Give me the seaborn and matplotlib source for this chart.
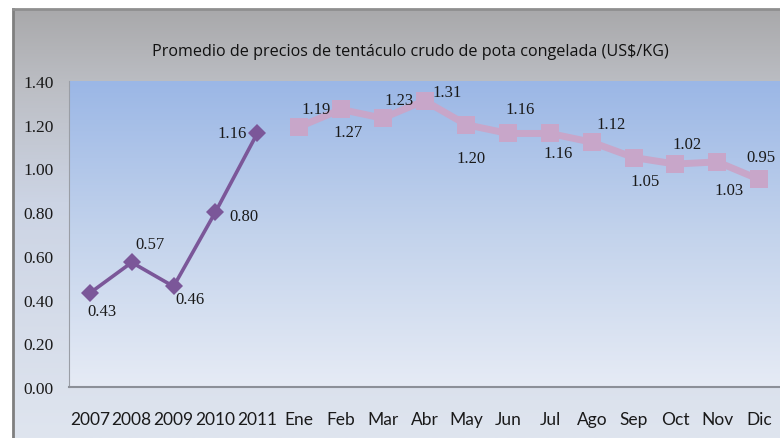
import numpy as np
import pandas as pd
import matplotlib
matplotlib.use('Agg')
import matplotlib.pyplot as plt
from matplotlib.colors import LinearSegmentedColormap
import seaborn as sns

# data
anios = ['2007', '2008', '2009', '2010', '2011']
precio_anual = [0.43, 0.57, 0.46, 0.80, 1.16]
meses = ['Ene', 'Feb', 'Mar', 'Abr', 'May', 'Jun', 'Jul', 'Ago', 'Sep', 'Oct', 'Nov', 'Dic']
precio_mensual = [1.19, 1.27, 1.23, 1.31, 1.20, 1.16, 1.16, 1.12, 1.05, 1.02, 1.03, 0.95]
etiquetas_x = anios + meses
ticks_y = [0.0, 0.2, 0.4, 0.6, 0.8, 1.0, 1.2, 1.4]

# label offsets in pixels (dx, dy), dy positive = up
off_anual = [(12, -18), (18, 18), (16, -13), (29, -4), (-25, 0)]
off_mensual = [(17, 18), (7, -23), (16, 18), (23, 9), (5, -33), (12, 24),
               (8, -20), (19, 18), (11, -24), (12, 20), (12, -28), (2, 22)]

df_anual = pd.DataFrame({'pos': np.arange(len(anios)), 'precio': precio_anual})
df_mensual = pd.DataFrame({'pos': np.arange(len(meses)) + len(anios), 'precio': precio_mensual})

W, H = 780, 439
fig = plt.figure(figsize=(W / 100, H / 100), dpi=100)
fig.patch.set_facecolor('white')

# outer chart area: grey at top fading to light blue-grey
bg = fig.add_axes([0, 0, 1, 1])
bg.set_xlim(0, W)
bg.set_ylim(H, 0)
bg.axis('off')
cm_outer = LinearSegmentedColormap.from_list(
    'outer', [(0.0, '#a9a9ab'), (0.18, '#bcbec4'), (0.45, '#ccd4e4'), (1.0, '#dfe5ef')])
grad = np.linspace(0, 1, 256).reshape(-1, 1)
bg.imshow(grad, cmap=cm_outer, aspect='auto', extent=[13, W, H, 10])
bg.plot([13, 13], [10, H], color='#7f7f7f', lw=2)
bg.plot([13, W], [10, 10], color='#8f8f8f', lw=2)

# plot area
x0, x1, y0, y1 = 69, 780, 82, 388
ax = fig.add_axes([x0 / W, (H - y1) / H, (x1 - x0) / W, (y1 - y0) / H])
ax.patch.set_alpha(0)
cm_plot = LinearSegmentedColormap.from_list('plot', ['#9bb7e6', '#c3d3ec', '#e6ebf5'])
ax.imshow(grad, cmap=cm_plot, aspect='auto', extent=[0, 1, 0, 1],
          transform=ax.transAxes, zorder=0)

sns.lineplot(data=df_mensual, x='pos', y='precio', ax=ax, color='#c8a6c9', lw=5,
             marker='s', markersize=13, markeredgewidth=0, zorder=3)
sns.lineplot(data=df_anual, x='pos', y='precio', ax=ax, color='#7b5799', lw=2.6,
             marker='D', markersize=9, markeredgewidth=0, zorder=4)

lbl_font = dict(family='Liberation Serif', size=12, color='#1a1a1a')
for (x, y), (dx, dy) in zip(zip(df_anual['pos'], df_anual['precio']), off_anual):
    ax.annotate(f'{y:.2f}', (x, y), xytext=(dx, dy), textcoords='offset pixels',
                ha='center', va='center', zorder=5, **lbl_font)
for (x, y), (dx, dy) in zip(zip(df_mensual['pos'], df_mensual['precio']), off_mensual):
    ax.annotate(f'{y:.2f}', (x, y), xytext=(dx, dy), textcoords='offset pixels',
                ha='center', va='center', zorder=5, **lbl_font)

ax.set_xlim(-0.5, len(etiquetas_x) - 0.5)
ax.set_ylim(0, 1.4)
ax.set_xticks(np.arange(len(etiquetas_x)))
ax.set_xticklabels(etiquetas_x, family=['Liberation Sans Narrow', 'DejaVu Sans Condensed', 'Lato'],
                   fontsize=12.5, color='#1a1a1a')
ax.set_yticks(ticks_y)
ax.set_yticklabels([f'{t:.2f}' for t in ticks_y], family='Liberation Serif', fontsize=12.5,
                   color='#1a1a1a')
ax.tick_params(axis='x', length=0, pad=17)
ax.tick_params(axis='y', length=0, pad=11)
ax.set_xlabel('')
ax.set_ylabel('')
for s in ['top', 'right']:
    ax.spines[s].set_visible(False)
ax.spines['left'].set_color('#9a9ea6')
ax.spines['bottom'].set_color('#8c9098')
ax.spines['bottom'].set_linewidth(1.5)

fig.text(410 / W, 1 - 52 / H, 'Promedio de precios de tentáculo crudo de pota congelada (US$/KG)',
         ha='center', va='center', family='Open Sans', fontsize=11.6, color='#111111')

fig.savefig('out.png', dpi=100)
